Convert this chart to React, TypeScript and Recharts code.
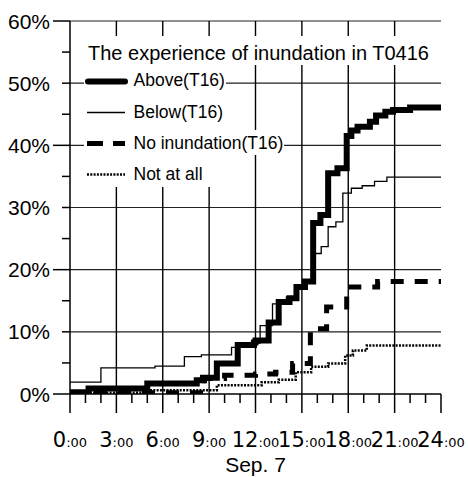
import React from 'react';
import { LineChart, Line, XAxis, YAxis, CartesianGrid, Legend } from 'recharts';

// ---- axis ticks / labels ----
const xTickHours = [0, 1, 2, 3, 4, 5, 6, 7, 8, 9, 10, 11, 12, 13, 14, 15, 16, 17, 18, 19, 20, 21, 22, 23, 24];
const yTicks = [0, 5, 10, 15, 20, 25, 30, 35, 40, 45, 50, 55, 60];
const gridXHours = [3, 6, 9, 12, 15, 18, 21];
const gridYValues = [10, 20, 30, 40, 50, 60];
const xAxisTitle = 'Sep. 7';
const legendTitle = 'The experience of inundation in T0416';

// ---- series (hour of step, cumulative %) ----
const aboveName = 'Above(T16)';
const aboveHours = [0, 1.2, 5.0, 8.2, 8.6, 9.5, 10.85, 11.9, 12.0, 12.85, 13.5, 14.2, 14.65, 15.2, 15.73, 16.2, 16.7, 17.3, 17.9, 18.2, 18.6, 19.4, 19.8, 20.4, 20.9, 22.0, 24];
const aboveValues = [0.3, 0.9, 1.7, 2.2, 2.6, 4.9, 7.9, 8.3, 8.6, 11.5, 14.8, 15.4, 17.2, 18.1, 27.5, 28.8, 35.5, 36.3, 41.5, 42.4, 43.0, 43.8, 44.8, 45.4, 45.7, 46.1, 46.1];

const belowName = 'Below(T16)';
const belowHours = [0, 2.0, 5.5, 7.4, 8.5, 10.45, 11.3, 12.3, 13.1, 14.0, 14.6, 15.3, 15.85, 16.25, 16.7, 17.2, 17.65, 18.2, 18.9, 19.7, 20.5, 24];
const belowValues = [1.9, 4.2, 4.5, 6.0, 6.3, 7.5, 8.2, 11.0, 14.5, 15.6, 17.0, 17.8, 22.6, 23.7, 26.9, 27.7, 32.3, 33.1, 33.5, 34.2, 34.9, 34.9];

const noneName = 'No inundation(T16)';
const noneHours = [0, 8.7, 10.0, 12.0, 13.3, 14.4, 15.55, 16.6, 17.9, 19.9, 24];
const noneValues = [0.2, 2.5, 3.0, 3.2, 3.5, 4.9, 10.5, 14.0, 17.2, 18.1, 18.1];

const notAtAllName = 'Not at all';
const notAtAllHours = [0, 5.0, 9.5, 12.4, 13.5, 14.6, 15.6, 16.7, 17.8, 18.3, 19.2, 24];
const notAtAllValues = [0.2, 0.6, 1.4, 1.9, 2.3, 3.5, 4.4, 4.9, 6.2, 7.0, 7.8, 7.8];

const toPoints = (hs: number[], vs: number[]) => hs.map((h, i) => ({ h, v: vs[i] }));

const SANS = '"Liberation Sans", Arial, sans-serif';
const WIDE = '"DejaVu Sans", sans-serif';

const XTick = (props: any) => {
  const { x, y, payload } = props;
  const h = payload.value as number;
  const major = h % 3 === 0;
  return (
    <g>
      <line x1={x} x2={x} y1={y} y2={y + (major ? 19 : 9)} stroke="#000" strokeWidth={1.5} />
      {major && (
        <text x={x} y={y + 53} textAnchor="middle" fontFamily={WIDE} fill="#000">
          <tspan fontSize={21}>{h}</tspan>
          <tspan fontSize={13}>:00</tspan>
        </text>
      )}
    </g>
  );
};

const YTick = (props: any) => {
  const { x, y, payload } = props;
  const v = payload.value as number;
  const long = v % 20 === 0;
  return (
    <g>
      <line x1={x - (long ? 17 : 8)} x2={x} y1={y} y2={y} stroke="#000" strokeWidth={1.5} />
      {v % 10 === 0 && (
        <text x={x - 20} y={y + 7.5} textAnchor="end" fontFamily={SANS} fontSize={21} fill="#000">
          {v}%
        </text>
      )}
    </g>
  );
};

const legendEntries = [
  { name: aboveName, width: 6, dash: undefined as string | undefined, cap: 'round' },
  { name: belowName, width: 1.3, dash: undefined as string | undefined, cap: 'butt' },
  { name: noneName, width: 5, dash: '16 10', cap: 'butt' },
  { name: notAtAllName, width: 2.5, dash: '2 1.3', cap: 'butt' },
];

const LegendBox = () => (
  <svg width={468} height={200} style={{ display: 'block' }}>
    <rect x={84} y={36} width={352} height={29} fill="#fff" />
    <rect x={84} y={64} width={142} height={123} fill="#fff" />
    <rect x={84} y={130} width={200} height={25} fill="#fff" />
    <text x={88} y={60} fontFamily={SANS} fontSize={20} fill="#000">{legendTitle}</text>
    {legendEntries.map((e, i) => {
      const ly = 81.5 + i * 31;
      return (
        <g key={e.name}>
          <line x1={e.cap === 'round' ? 88 : 87} x2={125} y1={ly} y2={ly}
            stroke="#000" strokeWidth={e.width} strokeDasharray={e.dash} strokeLinecap={e.cap as any} />
          <text x={133.5} y={ly + 5 + (i === 0 ? -0.5 : 0)} fontFamily={SANS} fontSize={17.5} fill="#000">{e.name}</text>
        </g>
      );
    })}
  </svg>
);

export default function App() {
  return (
    <div style={{ position: 'absolute', left: 0, top: 0, width: 468, height: 477, background: '#fff' }}>
      <LineChart width={468} height={477} margin={{ top: 21, right: 27, bottom: 0, left: 0 }}>
        <CartesianGrid horizontal={true} vertical={false} horizontalValues={gridYValues} stroke="#222" strokeWidth={1.2} />
        <CartesianGrid horizontal={false} vertical={true} verticalValues={gridXHours} stroke="#000" strokeWidth={1.4} />
        <XAxis
          dataKey="h"
          type="number"
          domain={[0, 24]}
          ticks={xTickHours}
          interval={0}
          tickSize={0}
          tickMargin={0}
          height={83}
          tick={<XTick />}
          tickLine={false}
          axisLine={{ stroke: '#000', strokeWidth: 1.5 }}
          allowDataOverflow
          label={{
            content: (p: any) => {
              const vb = p.viewBox || { x: 70, y: 394, width: 371 };
              return (
                <text x={vb.x + vb.width / 2} y={vb.y + 77.5} textAnchor="middle" fontFamily={SANS} fontSize={21} fill="#000">
                  {xAxisTitle}
                </text>
              );
            },
          }}
        />
        <YAxis
          type="number"
          domain={[0, 60]}
          ticks={yTicks}
          interval={0}
          width={70}
          tickSize={0}
          tickMargin={0}
          tick={<YTick />}
          tickLine={false}
          axisLine={{ stroke: '#000', strokeWidth: 1.5 }}
          allowDataOverflow
        />
        <Line data={toPoints(notAtAllHours, notAtAllValues)} dataKey="v" name={notAtAllName} type="stepAfter"
          stroke="#000" strokeWidth={2.5} strokeDasharray="2 1.3" dot={false} isAnimationActive={false} />
        <Line data={toPoints(noneHours, noneValues)} dataKey="v" name={noneName} type="stepAfter"
          stroke="#000" strokeWidth={5} strokeDasharray="13 11" dot={false} isAnimationActive={false} />
        <Line data={toPoints(belowHours, belowValues)} dataKey="v" name={belowName} type="stepAfter"
          stroke="#000" strokeWidth={1.3} dot={false} isAnimationActive={false} />
        <Line data={toPoints(aboveHours, aboveValues)} dataKey="v" name={aboveName} type="stepAfter"
          stroke="#000" strokeWidth={6} dot={false} isAnimationActive={false} />
        <Legend
          layout="vertical"
          align="center"
          verticalAlign="middle"
          wrapperStyle={{ position: 'absolute', left: 0, top: 0, width: 468, height: 200, pointerEvents: 'none' }}
          content={() => <LegendBox />}
        />
      </LineChart>
    </div>
  );
}
